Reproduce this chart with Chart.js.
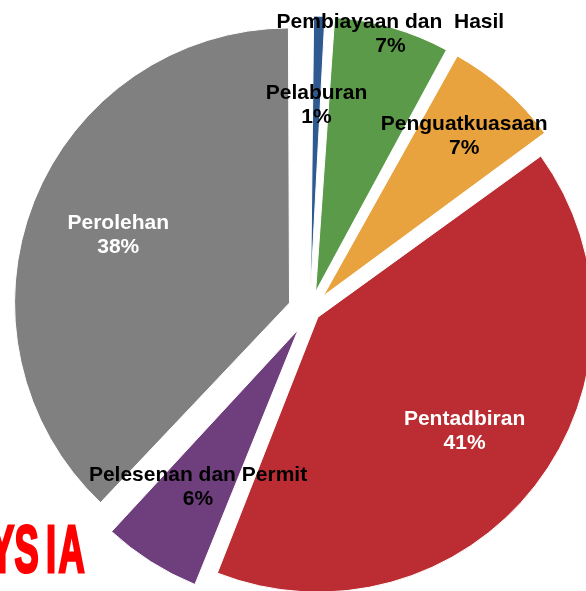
<!DOCTYPE html>
<html>
<head>
<meta charset="utf-8">
<script src="https://cdn.jsdelivr.net/npm/chart.js@4.4.0/dist/chart.umd.min.js"></script>
<style>
  html, body { margin: 0; padding: 0; background: #ffffff; }
  #wrap { width: 586px; height: 591px; position: relative; overflow: hidden; }
</style>
</head>
<body>
<div id="wrap"><canvas id="pie" width="586" height="591"></canvas></div>
<script>
  const categories = [
    "Pelaburan",
    "Pembiayaan dan  Hasil",
    "Penguatkuasaan",
    "Pentadbiran",
    "Pelesenan dan Permit",
    "Perolehan",
  ];
  const shares = [1, 7, 7, 41, 6, 38];

  const sliceColors = ["#2e5a91", "#5a9a49", "#e8a33e", "#bb2d32", "#6f3e7c", "#7f807f"];
  const labelColors = ["#000000", "#000000", "#000000", "#ffffff", "#000000", "#ffffff"];
  // how far each slice is pulled out, px
  const explode = [20, 20, 20, 10, 22, 22];
  // label distance from the slice tip, as part of the radius
  const labelRadius = [0.675, 0.975, 0.775, 0.675, 0.68, 0.67];

  // chart.js grows small exploded slices, put the radius back
  const keepRadius = {
    id: "keepRadius",
    beforeDatasetDraw(chart, args) {
      const meta = args.meta;
      const full = meta.controller.outerRadius;
      meta.data.forEach((arc, i) => {
        const fix = 1 - Math.sin(Math.min(Math.PI, arc.circumference));
        arc.outerRadius = full - fix * explode[i];
      });
    },
  };

  const sliceLabels = {
    id: "sliceLabels",
    afterDatasetsDraw(chart) {
      const ctx = chart.ctx;
      const meta = chart.getDatasetMeta(0);
      const full = meta.controller.outerRadius;

      ctx.save();
      ctx.font = 'bold 21px "Liberation Sans", Arial, sans-serif';
      ctx.textAlign = "center";
      ctx.textBaseline = "middle";
      meta.data.forEach((arc, i) => {
        const mid = (arc.startAngle + arc.endAngle) / 2;
        const d = explode[i] + full * labelRadius[i];
        const x = arc.x + Math.cos(mid) * d;
        const y = arc.y + Math.sin(mid) * d;
        ctx.fillStyle = labelColors[i];
        ctx.fillText(categories[i], x, y - 12);
        ctx.fillText(shares[i] + "%", x, y + 12);
      });
      ctx.restore();

      // cut off watermark in the corner
      ctx.save();
      ctx.fillStyle = "#ff0000";
      ctx.strokeStyle = "#ff0000";
      ctx.lineWidth = 3;
      ctx.font = 'bold 66px "Liberation Sans", Arial, sans-serif';
      ctx.textAlign = "center";
      ctx.textBaseline = "alphabetic";
      ctx.scale(0.55, 1);
      [["Y", 2], ["S", 26.5], ["I", 51], ["A", 71.5]].forEach(([ch, cx]) => {
        ctx.fillText(ch, cx / 0.55, 572);
        ctx.strokeText(ch, cx / 0.55, 572);
      });
      ctx.restore();
    },
  };

  const ctx = document.getElementById("pie").getContext("2d");
  new Chart(ctx, {
    type: "pie",
    data: {
      labels: categories,
      datasets: [
        {
          data: shares,
          backgroundColor: sliceColors,
          borderColor: "#ffffff",
          borderWidth: 1,
          offset: explode.map((v) => v * 4),
          radius: 275,
          clip: false,
        },
      ],
    },
    options: {
      responsive: false,
      animation: false,
      layout: {
        padding: { left: 34, top: 31, right: 0, bottom: 0 },
      },
      plugins: {
        legend: { display: false },
        tooltip: { enabled: false },
        title: { display: false },
      },
    },
    plugins: [keepRadius, sliceLabels],
  });
</script>
</body>
</html>
